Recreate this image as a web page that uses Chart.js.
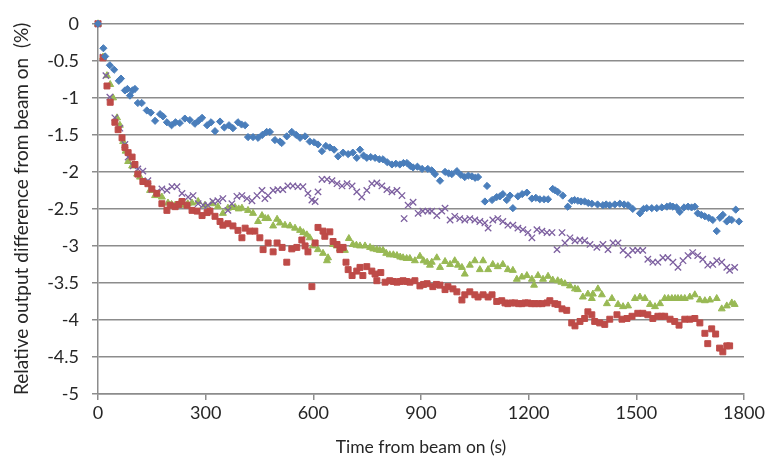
<!DOCTYPE html>
<html>
<head>
<meta charset="utf-8">
<script src="https://cdn.jsdelivr.net/npm/chart.js@4.4.1/dist/chart.umd.min.js"></script>
<style>
  html, body { margin: 0; padding: 0; background: #fff; }
  #chartDeriva { display: block; }
</style>
</head>
<body>
<canvas id="chartDeriva" width="769" height="467"></canvas>
<script>
// [time (s), relative difference (%)]
const serieAzul = [[0,0],[15,-0.33],[20,-0.44],[33,-0.56],[45,-0.62],[58,-0.77],[64,-0.74],[75,-0.9],[82,-0.88],[89,-0.97],[96,-0.9],[103,-0.88],[111,-1.07],[122,-1.07],[136,-1.17],[147,-1.2],[159,-1.31],[173,-1.22],[181,-1.25],[192,-1.33],[205,-1.37],[216,-1.33],[228,-1.34],[242,-1.28],[256,-1.3],[270,-1.35],[280,-1.31],[290,-1.27],[304,-1.37],[315,-1.33],[326,-1.45],[340,-1.32],[352,-1.4],[365,-1.37],[376,-1.41],[390,-1.33],[400,-1.36],[410,-1.37],[418,-1.53],[432,-1.53],[446,-1.54],[458,-1.5],[470,-1.46],[479,-1.46],[493,-1.57],[507,-1.59],[512,-1.61],[526,-1.52],[540,-1.46],[552,-1.5],[563,-1.54],[577,-1.52],[590,-1.59],[602,-1.6],[613,-1.63],[624,-1.72],[635,-1.65],[646,-1.67],[658,-1.7],[669,-1.79],[683,-1.74],[697,-1.76],[710,-1.74],[721,-1.81],[730,-1.7],[740,-1.78],[749,-1.81],[760,-1.8],[772,-1.81],[784,-1.83],[794,-1.83],[806,-1.87],[819,-1.9],[830,-1.89],[841,-1.9],[851,-1.88],[861,-1.88],[870,-1.92],[878,-1.94],[890,-1.93],[903,-1.96],[919,-1.96],[930,-1.98],[939,-2.03],[953,-2.12],[967,-2.0],[977,-2.02],[986,-2.03],[1000,-1.99],[1011,-2.04],[1022,-2.07],[1032,-2.05],[1042,-2.06],[1051,-2.08],[1059,-2.07],[1078,-2.4],[1084,-2.19],[1098,-2.38],[1111,-2.34],[1120,-2.33],[1128,-2.3],[1139,-2.38],[1148,-2.32],[1156,-2.49],[1170,-2.33],[1182,-2.3],[1195,-2.28],[1209,-2.36],[1220,-2.35],[1231,-2.37],[1243,-2.37],[1254,-2.37],[1267,-2.23],[1274,-2.25],[1281,-2.27],[1295,-2.32],[1309,-2.47],[1320,-2.39],[1328,-2.38],[1337,-2.39],[1346,-2.4],[1356,-2.4],[1366,-2.42],[1376,-2.43],[1392,-2.44],[1407,-2.45],[1416,-2.44],[1426,-2.45],[1440,-2.44],[1454,-2.43],[1466,-2.44],[1477,-2.45],[1490,-2.5],[1510,-2.56],[1520,-2.5],[1529,-2.49],[1543,-2.49],[1557,-2.49],[1571,-2.48],[1585,-2.47],[1594,-2.46],[1602,-2.47],[1612,-2.48],[1621,-2.54],[1633,-2.48],[1644,-2.47],[1654,-2.48],[1663,-2.47],[1671,-2.56],[1681,-2.58],[1691,-2.6],[1702,-2.62],[1713,-2.65],[1724,-2.8],[1733,-2.62],[1741,-2.58],[1752,-2.67],[1759,-2.64],[1766,-2.65],[1777,-2.51],[1786,-2.67]];

const serieRoja = [[0,0],[14,-0.46],[25,-0.84],[34,-1.06],[47,-1.33],[56,-1.43],[67,-1.54],[75,-1.67],[84,-1.74],[95,-1.8],[103,-1.9],[111,-2.03],[125,-2.13],[139,-2.16],[150,-2.23],[164,-2.29],[178,-2.43],[192,-2.52],[201,-2.45],[215,-2.47],[225,-2.44],[234,-2.4],[248,-2.45],[262,-2.52],[276,-2.53],[290,-2.59],[304,-2.55],[312,-2.53],[326,-2.6],[340,-2.67],[348,-2.72],[362,-2.7],[376,-2.73],[390,-2.79],[401,-2.89],[410,-2.76],[423,-2.8],[437,-2.8],[451,-2.89],[460,-3.05],[474,-2.96],[488,-3.08],[499,-2.96],[513,-3.02],[526,-3.22],[540,-3.04],[554,-3.02],[568,-2.92],[577,-3.0],[585,-3.08],[596,-3.55],[605,-2.96],[613,-2.75],[627,-2.8],[632,-2.87],[646,-2.81],[655,-2.94],[666,-2.98],[674,-3.05],[683,-3.02],[691,-3.22],[697,-3.32],[708,-3.4],[721,-3.34],[730,-3.29],[738,-3.4],[749,-3.28],[763,-3.34],[772,-3.38],[777,-3.47],[788,-3.36],[800,-3.49],[813,-3.47],[823,-3.48],[833,-3.49],[842,-3.48],[850,-3.47],[860,-3.48],[869,-3.49],[883,-3.47],[897,-3.54],[907,-3.52],[917,-3.51],[933,-3.55],[943,-3.52],[953,-3.53],[967,-3.59],[975,-3.55],[989,-3.58],[1000,-3.62],[1014,-3.73],[1022,-3.66],[1036,-3.62],[1050,-3.66],[1059,-3.69],[1073,-3.66],[1087,-3.69],[1098,-3.66],[1111,-3.75],[1125,-3.74],[1134,-3.77],[1142,-3.78],[1152,-3.77],[1162,-3.77],[1172,-3.78],[1181,-3.78],[1190,-3.77],[1198,-3.77],[1208,-3.78],[1217,-3.78],[1227,-3.78],[1237,-3.78],[1251,-3.77],[1259,-3.74],[1273,-3.78],[1281,-3.79],[1293,-3.85],[1306,-3.87],[1320,-4.04],[1329,-4.08],[1343,-4.02],[1356,-3.98],[1365,-3.89],[1376,-3.93],[1384,-4.02],[1398,-4.04],[1412,-4.06],[1426,-3.99],[1446,-3.93],[1460,-3.99],[1474,-3.98],[1488,-3.95],[1504,-3.91],[1518,-3.91],[1532,-3.93],[1546,-3.98],[1560,-3.95],[1570,-3.95],[1579,-3.95],[1594,-3.99],[1607,-4.02],[1619,-4.07],[1635,-3.99],[1649,-3.99],[1663,-3.98],[1677,-4.04],[1691,-4.18],[1699,-4.32],[1710,-4.12],[1721,-4.19],[1732,-4.38],[1741,-4.43],[1752,-4.35],[1760,-4.35]];

const serieVerde = [[0,0],[14,-0.45],[25,-0.7],[34,-0.82],[42,-1.0],[53,-1.27],[61,-1.37],[70,-1.59],[77,-1.72],[84,-1.86],[95,-1.92],[109,-2.03],[117,-2.07],[131,-2.14],[145,-2.25],[159,-2.32],[178,-2.34],[195,-2.42],[205,-2.44],[215,-2.45],[226,-2.44],[237,-2.45],[250,-2.43],[262,-2.42],[279,-2.4],[298,-2.45],[318,-2.43],[334,-2.47],[348,-2.56],[362,-2.49],[372,-2.48],[382,-2.48],[392,-2.5],[401,-2.49],[418,-2.52],[432,-2.56],[446,-2.67],[457,-2.59],[466,-2.63],[474,-2.63],[488,-2.73],[499,-2.64],[507,-2.69],[521,-2.72],[535,-2.73],[549,-2.76],[563,-2.79],[572,-2.82],[582,-2.85],[590,-2.89],[599,-3.0],[613,-3.05],[627,-3.1],[638,-3.2],[641,-3.16],[655,-2.98],[665,-3.0],[674,-3.04],[688,-3.06],[699,-2.9],[710,-2.98],[720,-2.99],[730,-3.0],[744,-3.0],[758,-3.02],[767,-3.04],[777,-3.05],[785,-3.06],[794,-3.06],[803,-3.1],[813,-3.12],[823,-3.12],[833,-3.13],[842,-3.15],[850,-3.16],[860,-3.17],[869,-3.17],[883,-3.2],[897,-3.14],[907,-3.2],[917,-3.22],[925,-3.26],[930,-3.22],[944,-3.16],[953,-3.29],[967,-3.21],[981,-3.25],[994,-3.2],[1003,-3.26],[1014,-3.29],[1022,-3.38],[1036,-3.26],[1050,-3.2],[1064,-3.32],[1073,-3.2],[1087,-3.32],[1100,-3.25],[1114,-3.28],[1128,-3.25],[1142,-3.32],[1156,-3.33],[1167,-3.45],[1181,-3.42],[1195,-3.4],[1209,-3.45],[1215,-3.53],[1226,-3.4],[1240,-3.45],[1254,-3.41],[1267,-3.46],[1281,-3.47],[1291,-3.49],[1301,-3.51],[1315,-3.54],[1329,-3.58],[1337,-3.59],[1351,-3.69],[1365,-3.65],[1376,-3.71],[1379,-3.65],[1393,-3.58],[1404,-3.66],[1418,-3.78],[1432,-3.71],[1449,-3.79],[1463,-3.82],[1477,-3.81],[1496,-3.71],[1510,-3.69],[1524,-3.71],[1538,-3.79],[1552,-3.82],[1566,-3.78],[1579,-3.71],[1589,-3.71],[1599,-3.71],[1608,-3.71],[1616,-3.71],[1625,-3.71],[1635,-3.71],[1649,-3.69],[1663,-3.66],[1677,-3.73],[1691,-3.74],[1705,-3.73],[1724,-3.71],[1738,-3.85],[1752,-3.81],[1766,-3.77],[1774,-3.79]];

const serieMorada = [[0,0],[14,-0.45],[22,-0.7],[33,-0.99],[47,-1.27],[61,-1.41],[75,-1.63],[84,-1.8],[98,-1.92],[111,-1.96],[125,-1.99],[139,-2.12],[150,-2.24],[164,-2.27],[178,-2.23],[192,-2.25],[206,-2.2],[220,-2.2],[234,-2.29],[251,-2.34],[265,-2.32],[279,-2.43],[293,-2.45],[306,-2.45],[320,-2.4],[334,-2.39],[348,-2.36],[362,-2.52],[373,-2.43],[387,-2.33],[401,-2.32],[415,-2.36],[429,-2.39],[443,-2.32],[457,-2.25],[465,-2.36],[474,-2.32],[488,-2.25],[501,-2.24],[515,-2.24],[529,-2.19],[543,-2.19],[557,-2.2],[571,-2.2],[585,-2.29],[596,-2.38],[605,-2.4],[613,-2.27],[624,-2.1],[638,-2.1],[652,-2.12],[666,-2.16],[680,-2.19],[694,-2.16],[708,-2.19],[721,-2.27],[735,-2.34],[749,-2.25],[763,-2.16],[777,-2.15],[791,-2.19],[805,-2.24],[819,-2.27],[833,-2.25],[847,-2.32],[853,-2.63],[864,-2.45],[878,-2.41],[892,-2.56],[905,-2.53],[919,-2.53],[930,-2.53],[944,-2.59],[958,-2.53],[967,-2.49],[981,-2.65],[994,-2.6],[1008,-2.63],[1022,-2.65],[1036,-2.63],[1050,-2.65],[1064,-2.67],[1078,-2.69],[1087,-2.76],[1100,-2.65],[1114,-2.63],[1128,-2.67],[1142,-2.72],[1156,-2.72],[1170,-2.76],[1184,-2.78],[1198,-2.82],[1209,-2.89],[1223,-2.78],[1237,-2.8],[1251,-2.82],[1265,-2.82],[1279,-3.05],[1293,-2.82],[1301,-2.96],[1315,-2.89],[1329,-2.93],[1343,-2.92],[1356,-2.93],[1371,-2.98],[1390,-3.02],[1407,-2.98],[1421,-3.05],[1435,-2.96],[1449,-2.96],[1463,-3.06],[1477,-3.12],[1490,-3.06],[1504,-3.06],[1518,-3.06],[1532,-3.18],[1546,-3.22],[1560,-3.22],[1574,-3.16],[1588,-3.16],[1602,-3.22],[1616,-3.29],[1630,-3.2],[1644,-3.13],[1657,-3.09],[1671,-3.13],[1685,-3.18],[1699,-3.26],[1713,-3.25],[1724,-3.2],[1738,-3.22],[1752,-3.29],[1760,-3.33],[1774,-3.29]];

const tiempoMin = 0;
const tiempoMax = 1800;
const tiempoPaso = 300;
const difMin = -5;
const difMax = 0;
const difPaso = 0.5;

const tituloX = 'Time from beam on (s)';
const tituloY = 'Relative output difference from beam on  (%)';

const canvas = document.getElementById('chartDeriva');
const ctx = canvas.getContext('2d');

const colorGrid = '#8c8c8c';
const colorTexto = '#262626';
const familia = 'Lato, Carlito, Calibri, sans-serif';
const fuenteTicks = { family: familia, size: 18 };
const fuenteTituloX = { family: familia, size: 17.5 };
const fuenteTituloY = { family: familia, size: 19 };

const aPuntos = serie => serie.map(p => ({ x: p[0], y: p[1] }));

const data = {
    datasets: [
        { label: 'azul', data: aPuntos(serieAzul), pointStyle: 'rectRot', pointRadius: 3.6, backgroundColor: '#4a7ebb', borderColor: '#4a7ebb', borderWidth: 1, clip: false },
        { label: 'roja', data: aPuntos(serieRoja), pointStyle: 'rect', pointRadius: 4.2, backgroundColor: '#be4b48', borderColor: '#be4b48', borderWidth: 1, clip: false },
        { label: 'morada', data: aPuntos(serieMorada), pointStyle: 'crossRot', pointRadius: 4.5, backgroundColor: '#7d60a0', borderColor: '#7d60a0', borderWidth: 1.3, clip: false },
        { label: 'verde', data: aPuntos(serieVerde), pointStyle: 'triangle', pointRadius: 4, backgroundColor: '#98b954', borderColor: '#98b954', borderWidth: 1, clip: false }
    ]
};

const chartDeriva = new Chart(ctx, {
    type: 'scatter',
    data: data,
    options: {
        responsive: false,
        animation: false,
        plugins: {
            legend: { display: false },
            tooltip: { enabled: false }
        },
        layout: { padding: { top: 17, right: 25, left: 0, bottom: 0 } },
        scales: {
            x: {
                min: tiempoMin,
                max: tiempoMax,
                ticks: { stepSize: tiempoPaso, color: colorTexto, font: fuenteTicks, padding: 2, maxRotation: 0, callback: v => String(v) },
                grid: { drawOnChartArea: false, drawTicks: true, tickLength: 6, color: colorGrid, lineWidth: 1.5 },
                border: { color: colorGrid, width: 1.5 },
                title: { display: true, text: tituloX, color: colorTexto, font: fuenteTituloX, padding: { top: 0, bottom: 9 } },
                afterFit: scale => { scale.height = 73; }
            },
            y: {
                min: difMin,
                max: difMax,
                ticks: { stepSize: difPaso, color: colorTexto, font: fuenteTicks, padding: 13, callback: v => String(Math.round(v * 10) / 10) },
                grid: { color: colorGrid, lineWidth: 1.5, tickLength: 6 },
                border: { color: colorGrid, width: 1.5 },
                title: { display: true, text: tituloY, color: colorTexto, font: fuenteTituloY, padding: { top: 10, bottom: 0 } },
                afterFit: scale => { scale.width = 98; }
            }
        }
    }
});
</script>
</body>
</html>
